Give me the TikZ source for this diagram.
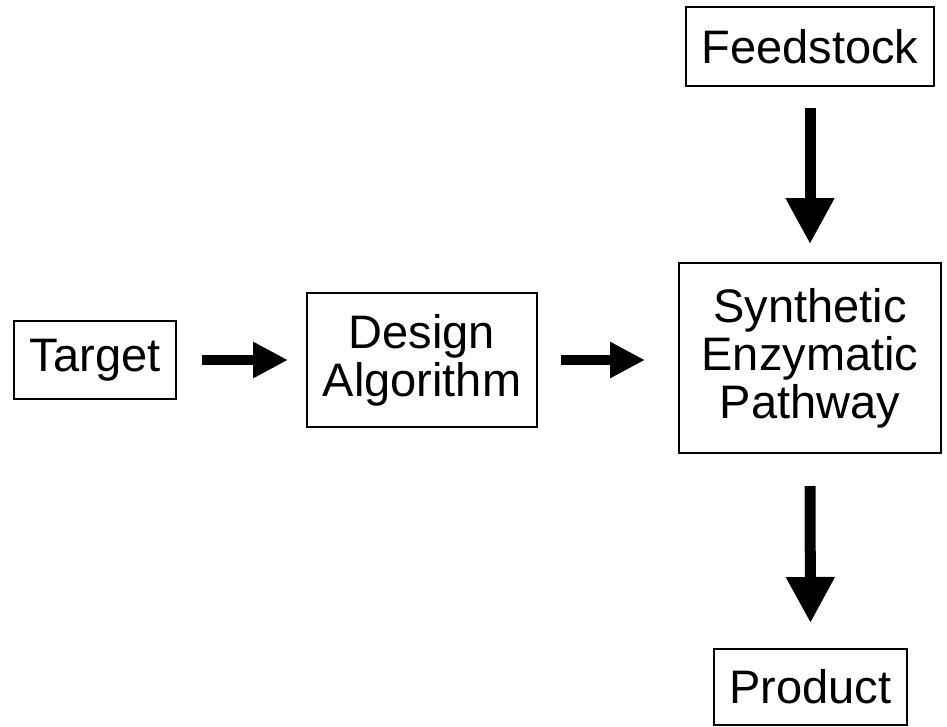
\documentclass[tikz,border=0pt]{standalone}
\usepackage{fontspec}
\setmainfont{Liberation Sans}
\usetikzlibrary{arrows.meta}
\begin{document}
\begin{tikzpicture}[x=1pt,y=1pt,
  box/.style={draw=black, line width=1.8pt, outer sep=0pt, inner sep=0pt, align=center,
              font=\fontsize{47}{48}\selectfont},
  varrow/.style={line width=11pt, -{Triangle[length=46pt,width=46pt]}},
  harrow/.style={line width=10pt, -{Triangle[length=35pt,width=34pt]}}]
\useasboundingbox (0,0) rectangle (947,-726);
\node[box, minimum width=248pt, minimum height=79pt] (feed) at (810,-46.5) {Feedstock};
\node[box, minimum width=262pt, minimum height=190pt] (syn) at (810,-358) {Synthetic\\Enzymatic\\Pathway};
\node[box, minimum width=193pt, minimum height=76pt] (prod) at (810.5,-687) {Product};
\node[box, minimum width=162pt, minimum height=78pt] (target) at (95,-360) {Target};
\node[box, minimum width=230pt, minimum height=134pt] (design) at (422,-360) {Design\\Algorithm};
\draw[varrow] ([yshift=-22pt]feed.south) -- ([yshift=19pt]syn.north);
\draw[varrow] ([yshift=-33pt]syn.south) -- ([yshift=26pt]prod.north);
\draw[harrow] ([xshift=26pt]target.east) -- ([xshift=-19pt]design.west);
\draw[harrow] ([xshift=24pt]design.east) -- ([xshift=-34pt]syn.west |- design.east);
\end{tikzpicture}
\end{document}
